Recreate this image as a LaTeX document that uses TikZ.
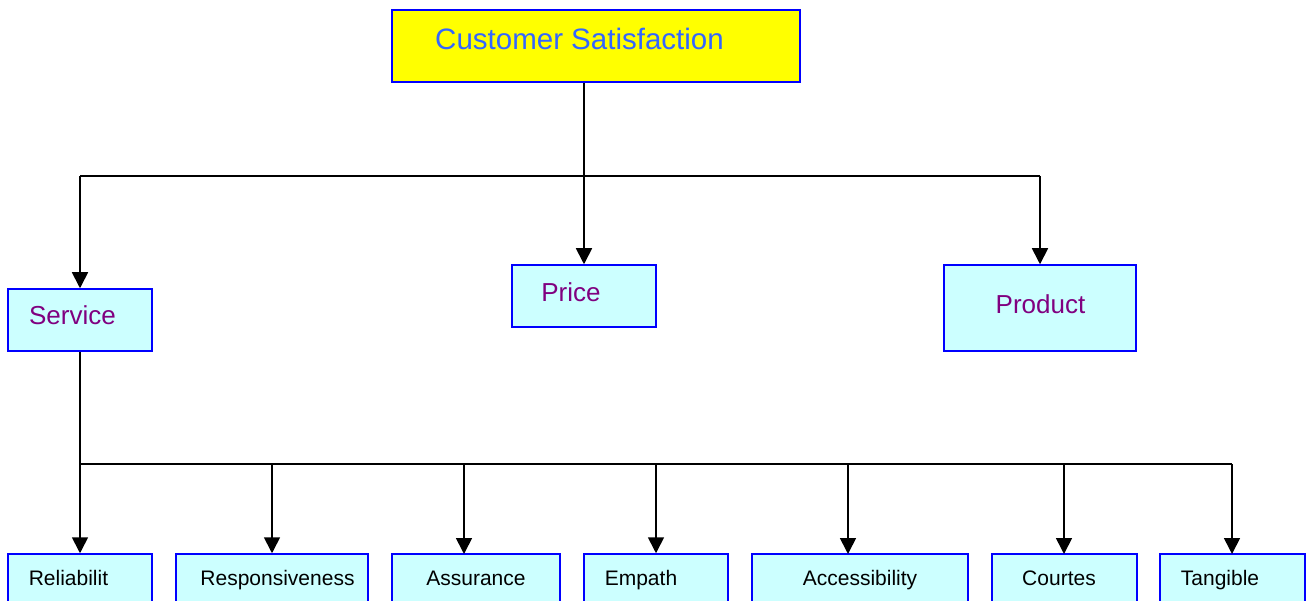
\documentclass[tikz,border=0pt]{standalone}
\usepackage{fontspec}
\setmainfont{Liberation Sans}
\usetikzlibrary{arrows.meta}
\definecolor{boxblue}{RGB}{0,0,255}
\definecolor{boxcyan}{RGB}{204,255,255}
\definecolor{topyellow}{RGB}{255,255,0}
\definecolor{toptext}{RGB}{51,102,255}
\definecolor{midtext}{RGB}{128,0,128}
\tikzset{
  box/.style={draw=boxblue, line width=1.5pt, fill=boxcyan, inner sep=0pt},
  topbox/.style={box, fill=topyellow},
  toplabel/.style={anchor=base, inner sep=0pt, text=toptext, font=\fontsize{29.5}{34}\selectfont},
  midlabel/.style={anchor=base, inner sep=0pt, text=midtext, font=\fontsize{26}{30}\selectfont},
  botlabel/.style={anchor=base, inner sep=0pt, text=black, font=\fontsize{21}{25}\selectfont},
  wire/.style={line width=1.7pt, black},
  arrow/.style={wire, -{Triangle[width=16pt,length=16pt]}}
}
\begin{document}
\begin{tikzpicture}[x=1pt,y=-1pt]
\useasboundingbox (0,0) rectangle (1306,601);
\clip (0,0) rectangle (1306,601);
\fill[white] (0,0) rectangle (1306,601);
% boxes
\node[topbox, minimum width=408pt, minimum height=72pt] (cs) at (596,46) {};
\node[box, minimum width=144pt, minimum height=62pt] (service) at (80,320) {};
\node[box, minimum width=144pt, minimum height=62pt] (price) at (584,296) {};
\node[box, minimum width=192pt, minimum height=86pt] (product) at (1040,308) {};
\node[box, minimum width=144pt, minimum height=90pt] (rel) at (80,599) {};
\node[box, minimum width=192pt, minimum height=90pt] (resp) at (272,599) {};
\node[box, minimum width=168pt, minimum height=90pt] (assu) at (476,599) {};
\node[box, minimum width=144pt, minimum height=90pt] (emp) at (656,599) {};
\node[box, minimum width=216pt, minimum height=90pt] (acc) at (860,599) {};
\node[box, minimum width=145pt, minimum height=90pt] (cou) at (1064.5,599) {};
\node[box, minimum width=145pt, minimum height=90pt] (tan) at (1232.5,599) {};
% texts
\node[toplabel] (cst) at (579.5,50) {Customer Satisfaction};
\node[midlabel] (servicet) at (72.5,325) {Service};
\node[midlabel] (pricet) at (571,301.5) {Price};
\node[midlabel] (productt) at (1040.5,314) {Product};
\node[botlabel] (relt) at (68.5,585) {Reliabilit};
\node[botlabel] (respt) at (277.5,585) {Responsiveness};
\node[botlabel] (assut) at (476,585) {Assurance};
\node[botlabel] (empt) at (641,585) {Empath};
\node[botlabel] (acct) at (860,585) {Accessibility};
\node[botlabel] (cout) at (1059,585) {Courtes};
\node[botlabel] (tant) at (1220,585) {Tangible};
% upper connectors
\coordinate (j1) at (584,176);
\draw[wire] (cs.south -| price.north) -- (j1);
\draw[wire] (j1 -| service.north) -- (j1 -| product.north);
\draw[arrow] (j1) -- (price.north);
\draw[arrow] (j1 -| service.north) -- (service.north);
\draw[arrow] (j1 -| product.north) -- (product.north);
% lower connectors
\coordinate (j2) at (80,464);
\coordinate (assutop) at (464,554);
\coordinate (acctop) at (848,554);
\coordinate (coutop) at (1064,554);
\coordinate (tantop) at (1232,554);
\draw[wire] (service.south) -- (j2);
\draw[wire] (j2) -- (j2 -| tantop);
\draw[arrow] (j2) -- (rel.north);
\draw[arrow] (j2 -| resp.north) -- (resp.north);
\draw[arrow] (j2 -| assutop) -- (assutop);
\draw[arrow] (j2 -| emp.north) -- (emp.north);
\draw[arrow] (j2 -| acctop) -- (acctop);
\draw[arrow] (j2 -| coutop) -- (coutop);
\draw[arrow] (j2 -| tantop) -- (tantop);
\end{tikzpicture}
\end{document}
